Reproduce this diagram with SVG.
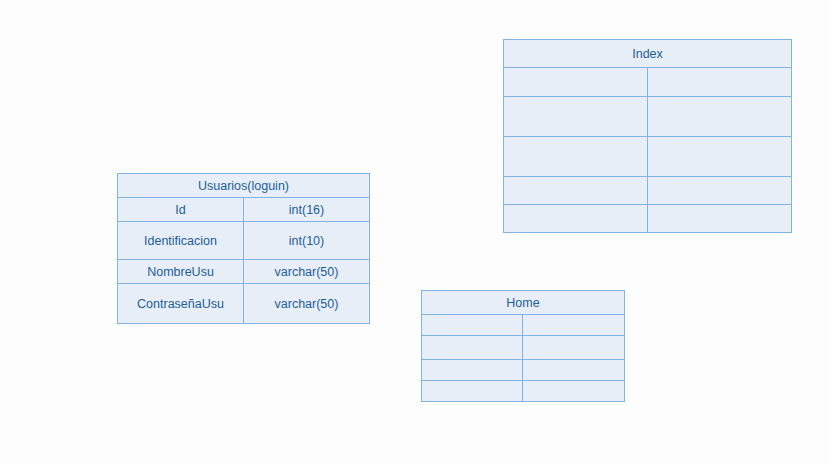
<svg xmlns="http://www.w3.org/2000/svg" width="829" height="465" viewBox="0 0 829 465">
<style>
.c{fill:#e8eef8;stroke:#80b3e6;stroke-width:1}
.l{stroke:#80b3e6;stroke-width:1;fill:none}
.t{font-family:"Liberation Sans",Arial,sans-serif;font-size:12.5px;fill:#215f97;text-anchor:middle;dominant-baseline:central}
</style>
<rect width="829" height="465" fill="#fdfdfd"/>
<g id="usuarios">
<rect class="c" x="117.5" y="173.5" width="252" height="150"/>
<path class="l" d="M117.5 197.5H369.5M117.5 221.5H369.5M117.5 259.5H369.5M117.5 283.5H369.5M243.5 197.5V323.5"/>
<text class="t" x="243.5" y="185.5">Usuarios(loguin)</text>
<text class="t" x="180.5" y="209.5">Id</text>
<text class="t" x="306.5" y="209.5">int(16)</text>
<text class="t" x="180.5" y="240.5">Identificacion</text>
<text class="t" x="306.5" y="240.5">int(10)</text>
<text class="t" x="180.5" y="271.5">NombreUsu</text>
<text class="t" x="306.5" y="271.5">varchar(50)</text>
<text class="t" x="180.5" y="303.5">ContraseñaUsu</text>
<text class="t" x="306.5" y="303.5">varchar(50)</text>
</g>
<g id="index">
<rect class="c" x="503.5" y="39.5" width="288" height="193"/>
<path class="l" d="M503.5 67.5H791.5M503.5 96.5H791.5M503.5 136.5H791.5M503.5 176.5H791.5M503.5 204.5H791.5M647.5 67.5V232.5"/>
<text class="t" x="647.5" y="53.5">Index</text>
</g>
<g id="home">
<rect class="c" x="421.5" y="290.5" width="203" height="111"/>
<path class="l" d="M421.5 314.5H624.5M421.5 335.5H624.5M421.5 359.5H624.5M421.5 380.5H624.5M522.5 314.5V401.5"/>
<text class="t" x="523" y="302.5">Home</text>
</g>
<g id="connectors"></g>
</svg>
